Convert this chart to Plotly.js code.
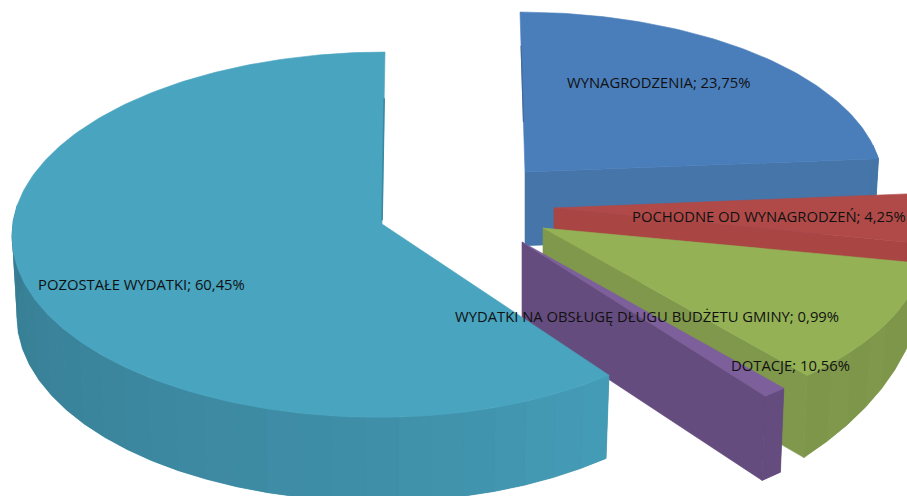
<!DOCTYPE html>
<html><head><meta charset="utf-8">
<script src="https://cdn.plot.ly/plotly-3.0.1.min.js"></script>
<style>html,body{margin:0;padding:0;background:#fff;overflow:hidden}</style>
</head><body><div id="chart" style="width:907px;height:496px"></div>
<script>
// Data, in drawing order round the pie (clockwise from 12 o'clock)
const categories = ["WYNAGRODZENIA","POCHODNE OD WYNAGRODZEŃ","DOTACJE","WYDATKI NA OBSŁUGĘ DŁUGU BUDŻETU GMINY","POZOSTAŁE WYDATKI"];
const values = [23.75, 4.25, 10.56, 0.99, 60.45];

// Styles
const topColors  = ["#4a7ebb","#b04a48","#94b255","#7d5f9c","#48a4bf"];
const wallColors = ["#4675a9","#a94543","#7f984b","#654c7e","#3f8fa8"];
const labelAnchors = [[658.5,82],[769,216],[790,365],[646.5,316],[141,284]];

// Projection of the exploded pie, one apex per slice
const slicePos = [
  {cx:525,cy:172,sx:0.985,sxL:1,   sy:0.93,d:78,lean:-5},
  {cx:554,cy:208,sx:0.99, sxL:1,   sy:1.0, d:70,lean:0},
  {cx:543,cy:228,sx:1.06, sxL:1,   sy:1.03,d:83,lean:0,taperFrom:50},
  {cx:522,cy:242,sx:1.05, sxL:1,   sy:1.02,d:85,lean:0},
  {cx:382,cy:224,sx:0.99, sxL:1.02,sy:1.0, d:84,lean:3}
];
const R=362, Ry=182, K=0.0586;

function project(s,deg,r,depth){
  const t=deg*Math.PI/180, u=Math.sin(t)*r, v=Math.cos(t)*r, p=1/(1+K*v);
  let x=s.cx+R*(u<0?s.sxL:s.sx)*u*p+s.lean*v, y=s.cy-Ry*s.sy*v*p;
  if(depth){
    let d=s.d;
    if(s.taperFrom!==undefined && r>0){
      const w=(s.endDeg-deg)/(s.endDeg-s.startDeg);
      d=s.d+(s.taperFrom-s.d)*w;
    }
    x=s.cx+(x-s.cx)*0.987; y+=d*p/(1+K);
  }
  return [x,y];
}
function shade(hex,f){
  const n=parseInt(hex.slice(1),16);
  const c=[n>>16,(n>>8)&255,n&255].map(a=>Math.max(0,Math.min(255,Math.round(a*f))));
  return "rgb("+c.join(",")+")";
}
function poly(points,color,w){
  const xs=points.map(p=>p[0]), ys=points.map(p=>p[1]);
  xs.push(xs[0]); ys.push(ys[0]);
  return {type:"scatter",mode:"lines",x:xs,y:ys,fill:"toself",fillcolor:color,
    line:{color:color,width:w===undefined?0.6:w},hoverinfo:"skip",showlegend:false};
}
function edge(a,b,color,w){
  return {type:"scatter",mode:"lines",x:[a[0],b[0]],y:[a[1],b[1]],line:{color:color,width:w},hoverinfo:"skip",showlegend:false};
}
const total=values.reduce((a,b)=>a+b,0);
const traces=[];
let start=0;
values.forEach((val,i)=>{
  const end=start+val/total*360, s=slicePos[i];
  s.startDeg=start; s.endDeg=end;
  const apexT=project(s,0,0,false), apexB=project(s,0,0,true);
  // cut face turned towards the viewer
  if(i<4) traces.push(poly([apexT,project(s,end,1,false),project(s,end,1,true),apexB],wallColors[i]));
  // outer wall: base then facets
  const step=(end-start)/Math.ceil((end-start)/5);
  const angles=[];
  for(let a=start;a<end-1e-6;a+=step){ if(Math.cos((a+step/2)*Math.PI/180)<=0.12) angles.push(a); }
  if(angles.length){
    const pts=[];
    angles.forEach(a=>pts.push(project(s,a,1,false)));
    const last=angles[angles.length-1]+step;
    pts.push(project(s,last,1,false));
    pts.push(project(s,last,1,true));
    angles.slice().reverse().forEach(a=>pts.push(project(s,a,1,true)));
    traces.push(poly(pts,wallColors[i]));
  }
  angles.forEach(a=>{
    const b=a+step, mid=(a+b)/2;
    let f;
    if(i===4) f = mid<180 ? 1.0+(180-mid)/38*0.09 : 1.0-Math.min(1,(mid-180)/90)*0.13;
    else f = 1.0-0.012*(Math.round(mid/5)%2);
    traces.push(poly([project(s,a,1,false),project(s,b,1,false),project(s,b,1,true),project(s,a,1,true)],shade(wallColors[i],f),0));
  });
  // top face
  const pts=[apexT];
  for(let a=start;a<end;a+=1) pts.push(project(s,a,1,false));
  pts.push(project(s,end,1,false));
  traces.push(poly(pts,topColors[i]));
  // thin dark edge along the back cut
  if(i===4) traces.push(edge(project(s,end,0.02,false),project(s,end,0.72,false),"#3a8aa2",1.6));
  if(i===0) traces.push(edge(project(s,start,0.3,false),project(s,start,0.78,false),"#41699a",1.2));
  start=end;
});
const fmt=v=>v.toFixed(2).replace(".",",")+"%";
const annotations=categories.map((c,i)=>({
  x:labelAnchors[i][0],y:labelAnchors[i][1],xref:"x",yref:"y",showarrow:false,
  text:c+"; "+fmt(values[i]),font:{family:"Open Sans, Noto Sans, sans-serif",size:14.8,color:"#111111"},
  xanchor:"center",yanchor:"middle"
}));
Plotly.newPlot("chart",traces,{
  width:907,height:496,margin:{l:0,r:0,t:0,b:0},showlegend:false,
  paper_bgcolor:"#ffffff",plot_bgcolor:"#ffffff",
  xaxis:{range:[0,907],visible:false,fixedrange:true},
  yaxis:{range:[496,0],visible:false,fixedrange:true},
  annotations:annotations
},{displayModeBar:false,staticPlot:true});
</script></body></html>
